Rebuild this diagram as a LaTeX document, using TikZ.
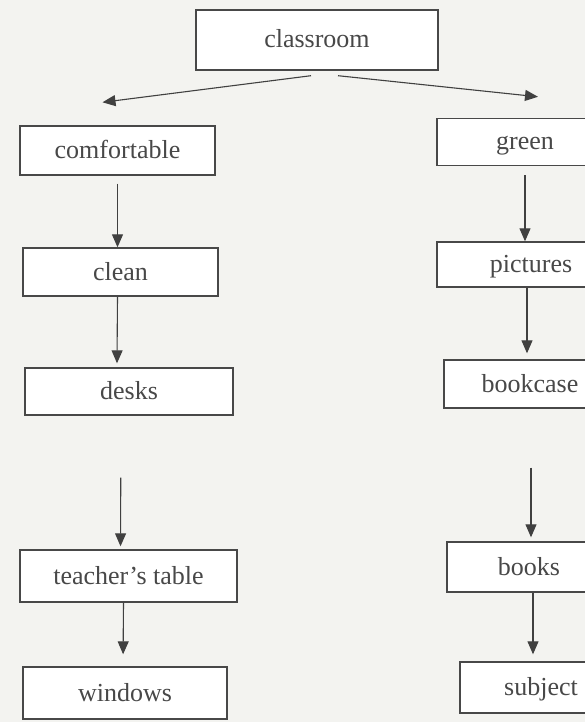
\documentclass[tikz,border=0pt]{standalone}
\usepackage{fontspec}
\setmainfont{Liberation Serif}
\usetikzlibrary{arrows.meta,calc}
\definecolor{paper}{RGB}{243,243,240}
\definecolor{ink}{RGB}{72,72,72}
\begin{document}
\begin{tikzpicture}[
            x = 1pt, y = -1pt,
            every node/.style={font=\fontsize{26}{30}\selectfont, text=ink, text height=18pt, text depth=2pt},
            box/.style={draw=ink, line width=1.4pt, fill=white, inner sep=0pt},
            line/.style={draw=black!75, line width=1.1pt, -{Triangle[width=11pt,length=13pt]}},
            ]
        \clip (0,0) rectangle (585,722);
        \fill[paper] (0,0) rectangle (585,722);
        % left column
        \node[box, minimum width=242pt, minimum height=60pt] (classroom) at (317,40) {classroom};
        \node[box, minimum width=195pt, minimum height=49pt] (comfortable) at (117.5,150.5) {comfortable};
        \node[box, minimum width=195pt, minimum height=48pt] (clean) at (120.5,272) {clean};
        \node[box, minimum width=208pt, minimum height=47pt] (desks) at (129,391.5) {desks};
        \node[box, minimum width=217pt, minimum height=52pt] (table) at (128.5,576) {teacher's table};
        \node[box, minimum width=204pt, minimum height=52pt] (windows) at (125,693) {windows};
        % right column, cut at the edge
        \node[box, minimum width=176pt, minimum height=47pt] (green) at (525,142) {green};
        \node[box, minimum width=188pt, minimum height=45pt] (pictures) at (531,264.5) {pictures};
        \node[box, minimum width=172pt, minimum height=48pt] (bookcase) at (530,384) {bookcase};
        \node[box, minimum width=164pt, minimum height=50pt] (books) at (529,567) {books};
        \node[box, minimum width=162pt, minimum height=51pt] (subject) at (541,687.5) {subject};
        % arrows
        \draw[line] ($(classroom.south)+(-6,5)$) -- ($(comfortable.north)+(-15,-23)$);
        \draw[line] ($(classroom.south)+(21,5)$) -- ($(green.north)+(13,-21)$);
        \draw[line, shorten <=8pt] (comfortable.south) -- (comfortable.south |- clean.north);
        \draw[line] (clean.south) ++(-3,0) -- ($(desks.north)+(-12,-4)$);
        \draw[line, shorten <=62pt, shorten >=3pt] ($(desks.south)+(-8,0)$) -- ($(table.north)+(-8,0)$);
        \draw[line, shorten >=12pt] ($(table.south)+(-5,0)$) -- ($(windows.north)+(-2,0)$);
        \draw[line, shorten <=9pt] (green.south) -- (green.south |- pictures.north);
        \draw[line, shorten >=6pt] ($(pictures.south)+(-4,0)$) -- ($(bookcase.north)+(-3,0)$);
        \draw[line, shorten <=59pt, shorten >=4pt] ($(bookcase.south)+(1,0)$) -- ($(books.north)+(2,0)$);
        \draw[line, shorten >=7pt] ($(books.south)+(4,0)$) -- ($(subject.north)+(-8,0)$);
    \end{tikzpicture}
\end{document}
